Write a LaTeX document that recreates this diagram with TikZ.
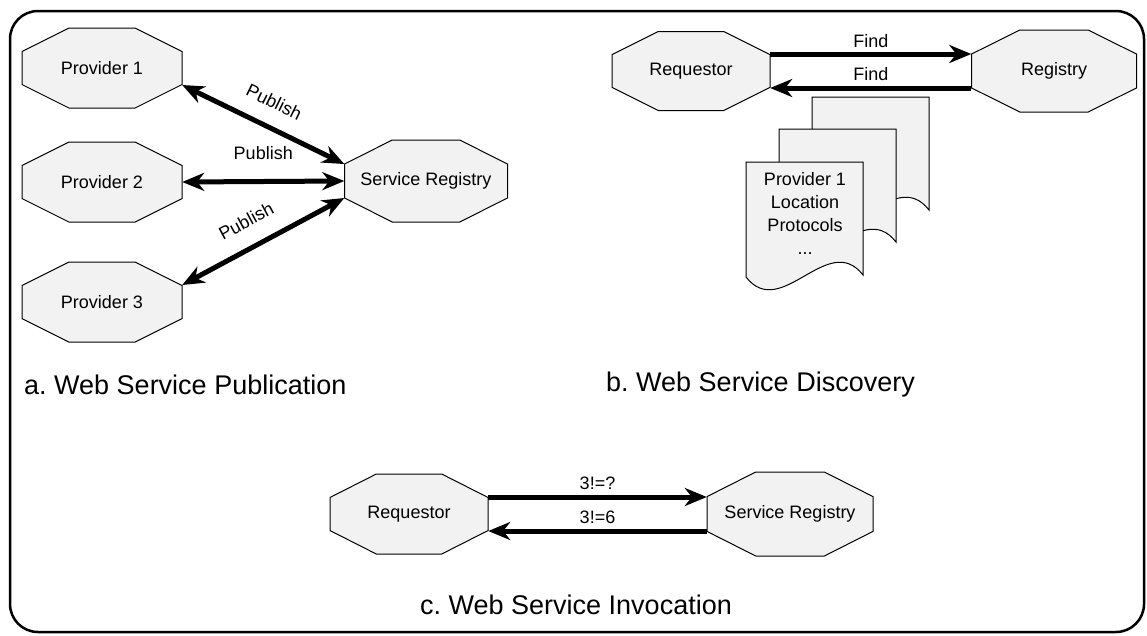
\documentclass[tikz,border=0pt]{standalone}
\usepackage{fontspec}
\setmainfont{Liberation Sans}
\usetikzlibrary{arrows.meta,calc}
\frenchspacing

\tikzset{
  octline/.style={draw, fill=black!5, line width=1pt},
  octtext/.style={inner sep=0pt, font=\fontsize{18}{20}\selectfont},
  msg/.style={line width=5pt, -{Stealth[length=22pt,width=18pt,inset=7pt]}},
  msgboth/.style={line width=5pt,
    {Stealth[length=22pt,width=18pt,inset=7pt]}-{Stealth[length=22pt,width=18pt,inset=7pt]}},
  lbl/.style={font=\fontsize{18}{20}\selectfont, inner sep=1pt},
  parttitle/.style={font=\fontsize{27}{29}\selectfont, inner sep=0pt},
}

% stretched octagon with a node inside: name, x, y, width, height, text
\newcommand{\octnode}[6]{%
  \draw[octline] (#2-#4/2,#3-0.207*#5) -- (#2-0.207*#4,#3-#5/2) -- (#2+0.207*#4,#3-#5/2)
    -- (#2+#4/2,#3-0.207*#5) -- (#2+#4/2,#3+0.207*#5) -- (#2+0.207*#4,#3+#5/2)
    -- (#2-0.207*#4,#3+#5/2) -- (#2-#4/2,#3+0.207*#5) -- cycle;
  \node[octtext, minimum width=#4pt, minimum height=#5pt] (#1) at (#2,#3) {#6};}

% one page with a wavy bottom, #1,#2 = top left corner
\newcommand{\docpage}[2]{%
  \draw[fill=black!5, line width=1pt] (#1,#2) -- (#1+117,#2) -- (#1+117,#2+113)
    .. controls (#1+82,#2+68) and (#1+35,#2+160) .. (#1,#2+115) -- cycle;}

\begin{document}
\begin{tikzpicture}[x=1pt,y=-1pt]
\useasboundingbox (0,0) rectangle (1147,635);

%% frame
\draw[line width=2.5pt, rounded corners=28pt] (10,11) rectangle (1144,632);

%% a. publication
\octnode{prov1}{102}{68}{160}{80}{Provider 1}
\octnode{prov2}{102}{182}{160}{80}{Provider 2}
\octnode{prov3}{102}{302}{160}{80}{Provider 3}
\octnode{sreg}{426}{181}{163}{82}{Service Registry}

\draw[msgboth] ($(prov1.east)+(0,17)$) -- ($(sreg.west)+(0,-17)$)
  node[lbl, pos=0.5, sloped, above=15pt] {Publish};
\draw[msgboth] (prov2.east) -- (sreg.west)
  node[lbl, midway, above=18pt] {Publish};
\draw[msgboth] ($(prov3.east)+(0,-17)$) -- ($(sreg.west)+(0,17)$)
  node[lbl, pos=0.47, sloped, above=16pt] {Publish};

\node[parttitle, anchor=west] (ttla) at (24,385) {a. Web Service Publication};

%% b. discovery
\octnode{req}{691}{71}{158}{79}{Requestor}
\octnode{reg}{1054}{71}{165}{82}{Registry}

\draw[msg] ($(req.east)+(0,-17)$) -- ($(reg.west)+(0,-17)$)
  node[lbl, midway, above=3pt] {Find};
\draw[msg] ($(reg.west)+(0,17)$) -- ($(req.east)+(0,17)$)
  node[lbl, midway, above=4pt] {Find};

\docpage{812}{97}
\docpage{779}{129}
\docpage{746}{162}
\node[lbl, align=center, font=\fontsize{18}{23}\selectfont] (doctxt) at (805,213)
  {Provider 1\\Location\\Protocols\\...};

\node[parttitle, anchor=west] (ttlb) at (606,385) {b. Web Service Discovery};

%% c. invocation
\octnode{req2}{409}{514}{158}{80}{Requestor}
\octnode{sreg2}{790}{514}{166}{84}{Service Registry}

\draw[msg] ($(req2.east)+(0,-17)$) -- ($(sreg2.west)+(0,-17)$)
  node[lbl, midway, above=4pt] {3!=?};
\draw[msg] ($(sreg2.west)+(0,17)$) -- ($(req2.east)+(0,17)$)
  node[lbl, midway, above=4pt] {3!=6};

\node[parttitle] (ttlc) at (576,605) {c. Web Service Invocation};

\end{tikzpicture}
\end{document}
